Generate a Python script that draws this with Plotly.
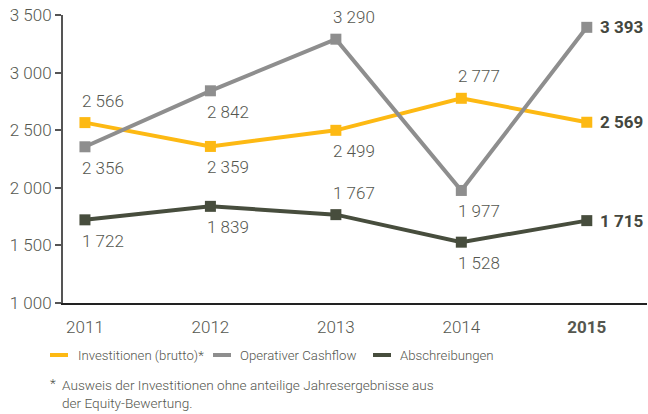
import plotly.graph_objects as go

years = ["2011", "2012", "2013", "2014", "2015"]
investitionen = [2566, 2359, 2499, 2777, 2569]
cashflow = [2356, 2842, 3290, 1977, 3393]
abschreibungen = [1722, 1839, 1767, 1528, 1715]

series = [
    ("Investitionen (brutto)*", investitionen, "#FDB913", ["above", "below", "below", "above", "right"]),
    ("Operativer Cashflow", cashflow, "#8E8E8E", ["below", "below", "above", "below", "right"]),
    ("Abschreibungen", abschreibungen, "#474D3D", ["below", "below", "above", "below", "right"]),
]

FONT = "Roboto"
TXT = "#55574F"
L, T, W, H = 63, 15, 584, 288


def px(x):
    return (x - L) / W


def py(y):
    return (T + H - y) / H


fig = go.Figure()
xs = list(range(len(years)))
annotations = []
shapes = []
legend_pos = [(50, 76), (213, 238), (373, 398)]
for (name, vals, color, places), (lx, tx) in zip(series, legend_pos):
    fig.add_trace(go.Scatter(x=xs, y=vals, mode="lines+markers", name=name,
                             line=dict(color=color, width=4),
                             marker=dict(symbol="square", size=11, color=color)))
    for x, v, p in zip(xs, vals, places):
        txt = f"{v:,}".replace(",", " ")
        if p == "right":
            annotations.append(dict(x=x, y=v, text=f"<b>{txt}</b>", showarrow=False,
                                    xanchor="left", yanchor="middle", xshift=11,
                                    font=dict(family=FONT, size=17, color="#44473E")))
        else:
            annotations.append(dict(x=x, y=v, text=txt, showarrow=False,
                                    xanchor="left", yanchor="middle", xshift=-5,
                                    yshift=22 if p == "above" else -21,
                                    font=dict(family=FONT, size=17, color=TXT, weight=300)))
    # legend entry
    shapes.append(dict(type="line", xref="paper", yref="paper",
                       x0=px(lx), x1=px(lx + 18), y0=py(355), y1=py(355),
                       line=dict(color=color, width=4)))
    annotations.append(dict(xref="paper", yref="paper", x=px(tx), y=py(355), text=name,
                            showarrow=False, xanchor="left", yanchor="middle",
                            font=dict(family=FONT, size=13.2, color=TXT, weight=300)))

annotations.append(dict(xref="paper", yref="paper", x=px(48), y=py(383), text="*",
                        showarrow=False, xanchor="left", yanchor="middle",
                        font=dict(family=FONT, size=13.6, color=TXT, weight=300)))
annotations.append(dict(xref="paper", yref="paper", x=px(60), y=py(393.5),
                        text="Ausweis der Investitionen ohne anteilige Jahresergebnisse aus<br>der Equity-Bewertung.",
                        showarrow=False, xanchor="left", yanchor="middle", align="left",
                        font=dict(family=FONT, size=13.6, color=TXT, weight=300)))

fig.update_layout(
    width=648, height=414,
    margin=dict(l=L, r=648 - L - W, t=T, b=414 - T - H, autoexpand=False),
    plot_bgcolor="white", paper_bgcolor="white",
    separators=", ",
    font=dict(family=FONT, color=TXT, size=16, weight=300),
    showlegend=False,
    annotations=annotations,
    shapes=shapes,
    xaxis=dict(range=[-0.175, 4.48], tickmode="array", tickvals=xs,
               ticktext=years[:-1] + ["<b>" + years[-1] + "</b>"],
               showgrid=False, zeroline=False, showline=True, linecolor="#222",
               linewidth=1.5, ticks="", ticklabelstandoff=8, automargin=False,
               tickfont=dict(family=FONT, size=17, color=TXT, weight=300)),
    yaxis=dict(range=[1000, 3500], tickmode="linear", tick0=1000, dtick=500,
               tickformat=",d", showgrid=False, zeroline=False, showline=True,
               linecolor="#555", linewidth=2, ticks="outside", ticklen=6,
               tickcolor="#555", tickwidth=1.5, automargin=False,
               tickfont=dict(family=FONT, size=17, color=TXT, weight=300)),
)

fig.write_html("out.html", config={"displayModeBar": False},
               post_script="document.body.style.margin='0';document.body.style.overflow='hidden';")
